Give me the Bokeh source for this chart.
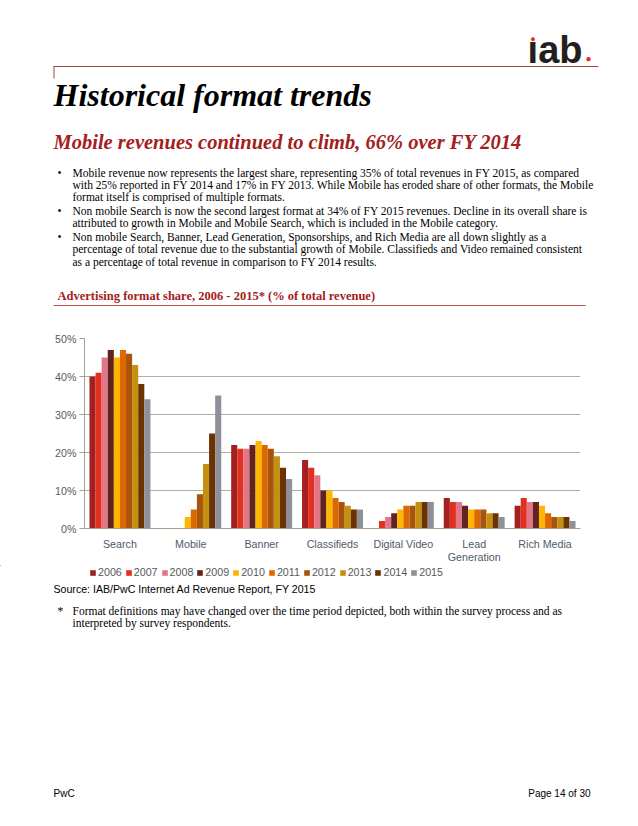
from bokeh.plotting import figure
from bokeh.models import (ColumnDataSource, Label, Legend, LegendItem,
                          FactorRange, Range1d, PrintfTickFormatter, FixedTicker)
from bokeh.layouts import column
from bokeh.transform import dodge
from bokeh.embed import file_html
from bokeh.resources import INLINE

categories = ["Search", "Mobile", "Banner", "Classifieds", "Digital Video", "Lead\nGeneration", "Rich Media"]
years = ["2006", "2007", "2008", "2009", "2010", "2011", "2012", "2013", "2014", "2015"]
y2006 = [40, 0, 22, 18, 0, 8, 6]
y2007 = [41, 0, 21, 16, 2, 7, 8]
y2008 = [45, 0, 21, 14, 3, 7, 7]
y2009 = [47, 0, 22, 10, 4, 6, 7]
y2010 = [45, 3, 23, 10, 5, 5, 6]
y2011 = [47, 5, 22, 8, 6, 5, 4]
y2012 = [46, 9, 21, 7, 6, 5, 3]
y2013 = [43, 17, 19, 6, 7, 4, 3]
y2014 = [38, 25, 16, 5, 7, 4, 3]
y2015 = [34, 35, 13, 5, 7, 3, 2]
series = [y2006, y2007, y2008, y2009, y2010, y2011, y2012, y2013, y2014, y2015]
colors = ["#A32020", "#E0301E", "#E27588", "#602320", "#FFB600",
          "#DC6900", "#A8540D", "#C4900F", "#6B3300", "#8F9099"]
y_ticks = [0, 10, 20, 30, 40, 50]

W = 630
TOP_END, CHART_END, PAGE_END = 320, 565, 818   # page y boundaries of the three panels
PL, PR, PT, PB = 84, 580, 338, 532              # page coords of the plot frame


def text_fig(y0, y1):
    f = figure(width=W, height=y1 - y0, x_range=Range1d(0, W), y_range=Range1d(y1, y0),
               output_backend="svg", toolbar_location=None,
               x_axis_location=None, y_axis_location=None,
               min_border=0, min_border_left=0, min_border_right=0,
               min_border_top=0, min_border_bottom=0, frame_align=False)
    f.grid.visible = False
    f.outline_line_color = None
    f.background_fill_color = "white"
    f.border_fill_color = "white"
    return f


def lab(f, x, y, text, size, color="#000000", font="Liberation Serif", style="normal",
        align="left", baseline="alphabetic"):
    if baseline == "alphabetic":
        y = y - 0.3 * size
    f.add_layout(Label(x=x, y=y, text=text, text_font_size=f"{size}px", text_color=color,
                       text_font=font, text_font_style=style, text_align=align,
                       text_baseline=baseline))


# ---------------- top text panel ----------------
top = text_fig(0, TOP_END)
lab(top, 582, 61, "\u0131ab", 38, "#231f20", "Liberation Sans", "bold", "right")
lab(top, 532.5, 38, "\u25CF", 9, "#E0301E", "Liberation Sans", "normal", "center", "middle")
lab(top, 591, 61, "\u25CF", 10, "#E0301E", "Liberation Sans", "normal", "right")
top.line(x=[53, 598], y=[66, 66], line_color="#9E4A45", line_width=1)
top.line(x=[53.5, 53.5], y=[66, 78], line_color="#9E4A45", line_width=1)

lab(top, 53, 104, "Historical format trends", 32, "#000000", "Liberation Serif", "bold italic")
lab(top, 53, 148, "Mobile revenues continued to climb, 66% over FY 2014", 20.5, "#A32020",
    "Liberation Serif", "bold italic")

bullets = [
    ["Mobile revenue now represents the largest share, representing 35% of total revenues in FY 2015, as compared",
     "with 25% reported in FY 2014 and 17% in FY 2013. While Mobile has eroded share of other formats, the Mobile",
     "format itself is comprised of multiple formats."],
    ["Non mobile Search is now the second largest format at 34% of FY 2015 revenues. Decline in its overall share is",
     "attributed to growth in Mobile and Mobile Search, which is included in the Mobile category."],
    ["Non mobile Search, Banner, Lead Generation, Sponsorships, and Rich Media are all down slightly as a",
     "percentage of total revenue due to the substantial growth of Mobile.  Classifieds and Video remained consistent",
     "as a percentage of total revenue in comparison to FY 2014 results."],
]
yy = 175.5
for b in bullets:
    lab(top, 57, yy, "\u2022", 11.5)
    for line in b:
        lab(top, 72, yy, line, 11.5)
        yy += 12.4
    yy += 1.2

lab(top, 57, 299, "Advertising format share, 2006 - 2015* (% of total revenue)", 12.5, "#A32020",
    "Liberation Serif", "bold")
top.line(x=[53, 585], y=[305, 305], line_color="#C0504D", line_width=1.2)

# ---------------- chart panel ----------------
data = {"cat": categories}
for yr, s in zip(years, series):
    data["y" + yr] = s
src = ColumnDataSource(data)

p = figure(width=W, height=CHART_END - TOP_END,
           x_range=FactorRange(*categories), y_range=Range1d(0, 50),
           output_backend="svg", toolbar_location=None, frame_align=False,
           min_border_left=PL, min_border_right=W - PR,
           min_border_top=PT - TOP_END, min_border_bottom=CHART_END - PB)
p.outline_line_color = None
p.background_fill_color = "white"
p.border_fill_color = "white"

bw = 0.086
for i, (yr, c) in enumerate(zip(years, colors)):
    p.vbar(x=dodge("cat", (i - 4.5) * bw, range=p.x_range), top="y" + yr, width=bw,
           source=src, fill_color=c, line_color=None)

p.yaxis.ticker = FixedTicker(ticks=y_ticks)
p.yaxis.formatter = PrintfTickFormatter(format="%d%%")
p.yaxis.axis_line_color = "#A8A08E"
p.yaxis.major_tick_line_color = "#A8A08E"
p.yaxis.major_tick_out = 5
p.yaxis.major_tick_in = 0
p.yaxis.minor_tick_line_color = None
p.yaxis.major_label_text_font = "Liberation Sans"
p.yaxis.major_label_text_font_size = "10.7px"
p.yaxis.major_label_text_color = "#555a60"
p.yaxis.major_label_standoff = 3

p.xaxis.axis_line_color = "#A8A08E"
p.xaxis.major_tick_line_color = None
p.xaxis.major_label_text_font = "Liberation Sans"
p.xaxis.major_label_text_font_size = "10.7px"
p.xaxis.major_label_text_color = "#4f5a66"
p.xaxis.major_label_text_line_height = 1.1
p.xaxis.major_label_standoff = 3

p.xgrid.grid_line_color = None
p.ygrid.grid_line_color = "#B5AE9C"
p.ygrid.grid_line_width = 1

# ---------------- bottom text panel (legend, source, notes) ----------------
bot = text_fig(CHART_END, PAGE_END)
items = []
for yr, c in zip(years, colors):
    # swatch-only renderer, kept outside the visible frame
    r = bot.vbar(x=[-100], top=[-100], bottom=[-110], width=1, fill_color=c, line_color=None)
    items.append(LegendItem(label=yr, renderers=[r]))
legend = Legend(items=items, orientation="horizontal",
                location=(89, (PAGE_END - CHART_END) - (578 - CHART_END)),
                label_text_font="Liberation Sans", label_text_font_size="10.7px",
                label_text_color="#555a60", glyph_width=7, glyph_height=7,
                spacing=3, label_standoff=2, padding=0, margin=0,
                label_height=12, border_line_color=None, background_fill_alpha=0)
bot.add_layout(legend, "center")

lab(bot, 53, 592, "Source: IAB/PwC Internet Ad Revenue Report, FY 2015", 10.6, "#000000", "Liberation Sans")
lab(bot, 57, 614, "*", 11.5)
lab(bot, 72, 614, "Format definitions may have changed over the time period depicted, both within the survey process and as", 11.5)
lab(bot, 72, 626, "interpreted by survey respondents.", 11.5)
lab(bot, 53, 796, "PwC", 10, "#000000", "Liberation Sans")
lab(bot, 590, 796, "Page 14 of 30", 10, "#000000", "Liberation Sans", "normal", "right")

layout = column(top, p, bot, spacing=0)
open("out.html", "w").write(file_html(layout, INLINE))
